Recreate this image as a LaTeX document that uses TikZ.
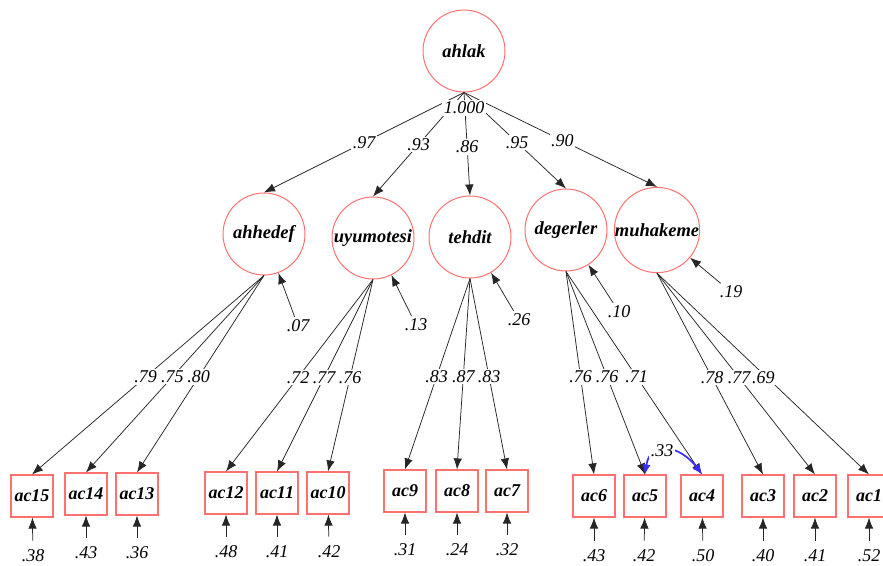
\documentclass[tikz,border=0pt]{standalone}
\usepackage{fontspec}
\setmainfont{Liberation Serif}
\usetikzlibrary{arrows.meta}
\definecolor{latred}{HTML}{FF7070}
\definecolor{covblue}{HTML}{3A2BFF}
\begin{document}
\begin{tikzpicture}[x=1pt,y=-1pt,
 lat/.style={circle,draw=latred,line width=1pt,minimum size=82pt,inner sep=0pt,font=\fontsize{18.5}{20}\selectfont\bfseries\itshape},
 obs/.style={rectangle,draw=latred,line width=1.15pt,minimum width=42pt,minimum height=42pt,inner sep=0pt,font=\fontsize{18}{20}\selectfont\bfseries\itshape},
 num/.style={font=\fontsize{18}{20}\selectfont\itshape,inner sep=1pt},
 lab/.style={num,fill=white,inner sep=1.5pt},
 arr/.style={draw=black!85,line width=0.75pt,-{Latex[length=11pt,width=8.5pt]}},
 res/.style={arr,shorten <=2pt},
 eres/.style={arr,shorten <=8pt},
 cov/.style={draw=covblue,line width=1.7pt,{Latex[length=10pt,width=8.5pt]}-{Latex[length=10pt,width=8.5pt]}},
]
\useasboundingbox (0,0) rectangle (883,565);

% latent variables
\node[lat] (ahlak) at (464,51) {ahlak};
\node[lat] (ahhedef) at (264,234) {ahhedef};
\node[lat] (uyum) at (373,238) {uyumotesi};
\node[lat] (tehdit) at (470,237) {tehdit};
\node[lat] (deger) at (566,230) {degerler};
\node[lat] (muhak) at (657,230) {muhakeme};

% observed variables
\node[obs] (ac15) at (32,496) {ac15};
\node[obs] (ac14) at (86,494) {ac14};
\node[obs] (ac13) at (137,494) {ac13};
\node[obs] (ac12) at (226,493) {ac12};
\node[obs] (ac11) at (277,493) {ac11};
\node[obs] (ac10) at (328,493) {ac10};
\node[obs] (ac9) at (405,491) {ac9};
\node[obs] (ac8) at (457,491) {ac8};
\node[obs] (ac7) at (507,491) {ac7};
\node[obs] (ac6) at (594,496) {ac6};
\node[obs] (ac5) at (645,496) {ac5};
\node[obs] (ac4) at (702,496) {ac4};
\node[obs] (ac3) at (763,496) {ac3};
\node[obs] (ac2) at (815,496) {ac2};
\node[obs] (ac1) at (869,496) {ac1};

% second-order loadings
\draw[arr] (ahlak.south) -- node[lab,pos=0.5] {.97} (ahhedef.north);
\draw[arr] (ahlak.south) -- node[lab,pos=0.5] {.93} (uyum.north);
\draw[arr] (ahlak.south) -- node[lab,pos=0.53] {.86} (tehdit.north);
\draw[arr] (ahlak.south) -- node[lab,pos=0.52] {.95} (deger.north);
\draw[arr] (ahlak.south) -- node[lab,pos=0.51] {.90} (muhak.north);
\node[lab] (var) at (464,108) {1.000};

% first-order loadings
\draw[arr] (ahhedef.south) -- node[lab,pos=0.51] {.79} (ac15.north);
\draw[arr] (ahhedef.south) -- node[lab,pos=0.515] {.75} (ac14.north);
\draw[arr] (ahhedef.south) -- node[lab,pos=0.515] {.80} (ac13.north);
\draw[arr] (uyum.south) -- node[lab,pos=0.51] {.72} (ac12.north);
\draw[arr] (uyum.south) -- node[lab,pos=0.51] {.77} (ac11.north);
\draw[arr] (uyum.south) -- node[lab,pos=0.51] {.76} (ac10.north);
\draw[arr] (tehdit.south) -- node[lab,pos=0.515] {.83} (ac9.north);
\draw[arr] (tehdit.south) -- node[lab,pos=0.515] {.87} (ac8.north);
\draw[arr] (tehdit.south) -- node[lab,pos=0.515] {.83} (ac7.north);
\draw[arr] (deger.south) -- node[lab,pos=0.52] {.76} (ac6.north);
\draw[arr] (deger.south) -- node[lab,pos=0.52] {.76} (ac5.north);
\draw[arr] (deger.south) -- node[lab,pos=0.52] {.71} (ac4.north);
\draw[arr] (muhak.south) -- node[lab,pos=0.52] {.78} (ac3.north);
\draw[arr] (muhak.south) -- node[lab,pos=0.52] {.77} (ac2.north);
\draw[arr] (muhak.south) -- node[lab,pos=0.52,xshift=-4pt] {.69} (ac1.north);

% latent residuals
\node[num] (d1) at (298,326) {.07};
\node[num] (d2) at (416,325) {.13};
\node[num] (d3) at (519,320) {.26};
\node[num] (d4) at (619,312) {.10};
\node[num] (d5) at (731,292) {.19};
\draw[res] (d1) -- (ahhedef);
\draw[res] (d2) -- (uyum);
\draw[res] (d3) -- (tehdit);
\draw[res] (d4) -- (deger);
\draw[res] (d5) -- (muhak);

% error terms
\node[num] (e15) at (33,556) {.38};
\node[num] (e14) at (86,553) {.43};
\node[num] (e13) at (137,553) {.36};
\node[num] (e12) at (226,552) {.48};
\node[num] (e11) at (277,552) {.41};
\node[num] (e10) at (329,552) {.42};
\node[num] (e9) at (405,550) {.31};
\node[num] (e8) at (457,550) {.24};
\node[num] (e7) at (507,550) {.32};
\node[num] (e6) at (594,556) {.43};
\node[num] (e5) at (644,556) {.42};
\node[num] (e4) at (703,556) {.50};
\node[num] (e3) at (763,556) {.40};
\node[num] (e2) at (815,556) {.41};
\node[num] (e1) at (869,556) {.52};
\foreach \i in {1,...,15}{
  \draw[eres] (e\i) -- (ac\i);
}

% correlated errors
\draw[cov] (ac5.north) .. controls (650,440) and (680,445) .. node[lab,pos=0.42] {.33} (ac4.north);
\end{tikzpicture}
\end{document}
